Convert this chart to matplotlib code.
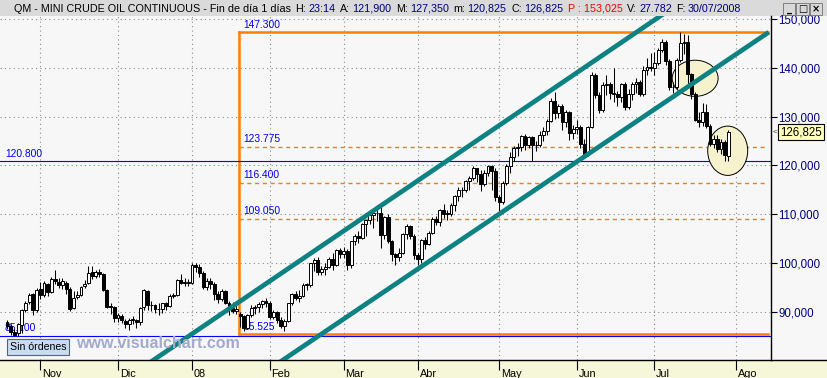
import numpy as np
import pandas as pd
import matplotlib
matplotlib.use("Agg")
import matplotlib.pyplot as plt
from matplotlib.patches import Rectangle, Ellipse
from matplotlib.lines import Line2D
from matplotlib.transforms import blended_transform_factory

plt.rcParams['font.family'] = ['Liberation Sans', 'DejaVu Sans']

# trading days, 19/10/2007 .. 30/07/2008 (axis runs on to Ago)
holidays = ["2007-11-22", "2007-12-25", "2008-01-01", "2008-01-21",
            "2008-02-18", "2008-03-21", "2008-05-26", "2008-07-04"]
dates = pd.bdate_range("2007-10-19", "2008-08-01")
dates = dates[~dates.isin(pd.to_datetime(holidays))]
month_labels = ["Nov", "Dic", "08", "Feb", "Mar", "Abr", "May", "Jun", "Jul", "Ago"]

opens = [87.9, 87.0, 85.9, 85.6, 87.3, 90.3, 92.0, 93.6, 90.4,
         94.6, 93.5, 95.7, 94.0, 96.8, 96.2, 95.5, 95.8, 94.7, 90.8, 93.0, 93.5, 95.2, 95.8, 98.1, 97.3, 98.2, 97.7, 94.4, 91.1, 91.0,
         88.8, 89.2, 88.2, 87.5, 88.3, 88.3, 87.9, 90.9, 94.3, 91.3, 91.3, 90.6, 90.5, 91.7, 91.1, 93.3, 93.5, 96.6, 96.0, 96.0,
         96.0, 99.6, 99.2, 97.9, 95.1, 96.3, 95.7, 93.7, 92.7, 94.2, 91.9, 90.8, 90.1, 89.5, 89.2, 86.6, 89.4, 90.7, 91.0, 91.6, 92.3,
         91.8, 89.0, 90.0, 88.4, 87.1, 88.1, 91.8, 93.6, 92.8, 93.3, 95.5, 95.5, 100.0, 100.7, 98.2, 98.8, 99.2, 100.9, 99.6, 102.6,
         101.8, 102.5, 99.5, 104.5, 105.5, 105.2, 107.9, 108.8, 109.9, 110.3, 110.2, 105.7, 109.4, 104.5, 101.8, 101.2, 102.0, 105.9, 107.6, 105.6,
         101.6, 100.9, 104.8, 103.9, 106.2, 109.1, 108.5, 110.9, 110.1, 110.1, 111.8, 113.8, 114.9, 114.9, 116.7, 117.5, 119.4, 118.3, 116.1, 118.5, 119.8, 118.8,
         113.5, 112.5, 116.3, 119.9, 121.8, 123.5, 123.7, 126.0, 124.2, 125.8, 124.1, 124.1, 126.3, 127.1, 129.1, 133.2, 130.8, 132.2, 128.9, 131.0, 126.6,
         127.4, 127.8, 124.3, 122.3, 127.8, 138.5, 134.4, 131.3, 136.4, 136.7, 134.9, 134.6, 134.0, 136.7, 131.9, 134.6, 136.7, 137.0, 134.6, 139.6, 140.2,
         140.0, 141.0, 143.6, 145.3, 141.4, 136.0, 136.1, 141.7, 145.1, 145.2, 138.7, 134.6, 129.3, 128.9, 131.0, 128.0, 124.4, 125.5, 123.3, 124.7, 121.9]
highs = [88.3, 87.4, 86.4, 87.8, 90.6, 92.2, 93.8, 93.9, 94.8,
         96.2, 96.3, 96.0, 97.1, 98.6, 97.0, 96.9, 96.4, 95.0, 94.2, 94.2, 95.3, 96.6, 99.3, 99.3, 98.6, 98.7, 97.9, 94.6, 91.8, 91.2,
         89.8, 89.5, 88.6, 88.7, 89.1, 88.5, 91.0, 94.7, 94.5, 92.2, 91.6, 91.8, 91.9, 92.0, 93.6, 93.9, 96.8, 97.8, 97.0, 96.8,
         100.0, 100.1, 99.8, 98.3, 97.0, 97.0, 96.1, 94.2, 94.7, 94.5, 92.2, 92.0, 91.8, 90.0, 89.4, 89.6, 91.3, 91.3, 92.0, 92.5, 92.9,
         92.2, 90.4, 90.2, 89.0, 88.5, 91.9, 93.8, 94.2, 94.5, 95.8, 96.0, 100.1, 101.0, 101.3, 99.4, 100.0, 101.2, 102.1, 102.9, 103.1,
         103.2, 102.9, 104.6, 105.9, 106.5, 108.2, 108.9, 110.2, 111.0, 111.8, 111.5, 109.7, 110.0, 104.7, 102.0, 103.1, 106.2, 107.9, 107.8, 106.0,
         102.0, 105.0, 105.3, 106.6, 109.4, 109.7, 111.0, 112.0, 110.8, 112.2, 114.0, 115.5, 115.5, 117.0, 117.8, 119.9, 119.5, 119.0, 119.0, 120.0, 120.0, 119.5,
         113.9, 116.7, 120.2, 122.7, 123.9, 124.6, 126.2, 126.4, 126.0, 126.0, 125.0, 127.0, 127.8, 129.6, 133.8, 135.1, 132.6, 132.6, 131.3, 131.2, 128.3,
         129.3, 128.3, 125.4, 128.0, 139.1, 139.0, 135.0, 137.0, 138.6, 137.0, 139.9, 135.3, 136.9, 137.0, 135.6, 137.0, 138.0, 137.5, 140.4, 142.0, 143.0,
         143.3, 144.0, 145.9, 145.6, 141.8, 137.0, 142.0, 147.3, 147.0, 146.7, 139.0, 135.0, 131.0, 132.7, 132.6, 128.5, 126.2, 126.3, 125.4, 125.2, 127.35]
lows = [86.4, 85.3, 85.1, 85.1, 85.6, 90.0, 91.6, 89.4, 89.9,
        92.6, 93.0, 93.3, 93.8, 95.6, 94.8, 94.7, 93.7, 90.2, 90.6, 92.6, 93.2, 94.9, 95.7, 96.8, 96.9, 97.2, 94.3, 90.7, 89.5, 88.0,
        87.9, 87.6, 86.6, 86.2, 87.4, 86.7, 87.3, 90.3, 90.4, 90.2, 89.8, 89.3, 89.8, 90.3, 90.9, 92.8, 93.3, 95.7, 95.2, 95.3,
        95.7, 98.1, 97.2, 94.6, 94.5, 94.6, 92.5, 91.7, 92.2, 91.5, 89.4, 89.8, 89.6, 86.9, 86.1, 86.4, 89.0, 89.5, 90.0, 90.8, 90.9,
        88.6, 88.5, 87.7, 86.6, 86.1, 87.9, 91.3, 92.4, 92.0, 93.1, 94.5, 95.0, 98.3, 97.6, 97.5, 97.6, 98.9, 98.5, 99.4, 101.0,
        101.0, 98.6, 99.0, 103.6, 104.0, 104.9, 105.6, 108.0, 107.1, 108.6, 103.0, 104.9, 104.0, 100.5, 99.6, 100.4, 101.8, 104.9, 104.9, 100.9,
        99.6, 100.0, 102.9, 103.7, 105.9, 107.7, 107.5, 109.3, 108.9, 109.6, 110.6, 112.7, 113.5, 114.6, 114.9, 117.0, 116.5, 114.8, 115.7, 117.8, 115.0, 112.8,
        110.6, 112.0, 115.9, 118.5, 120.8, 122.0, 123.0, 123.2, 123.5, 120.8, 122.9, 123.8, 125.0, 126.2, 128.9, 129.6, 129.8, 127.3, 127.9, 125.3, 125.4,
        126.4, 123.6, 121.6, 121.9, 127.6, 133.9, 130.7, 130.9, 134.4, 133.6, 133.0, 132.1, 133.0, 131.4, 131.6, 133.4, 134.9, 134.2, 134.3, 138.6, 139.3,
        138.6, 140.6, 143.3, 140.5, 135.4, 134.8, 135.7, 141.1, 142.8, 136.0, 133.7, 129.1, 127.8, 128.0, 127.7, 124.0, 123.6, 122.8, 122.3, 121.0, 120.825]
closes = [87.0, 85.9, 85.3, 87.4, 90.3, 91.8, 93.5, 90.4, 94.5,
          93.5, 95.9, 94.0, 96.7, 96.4, 95.5, 96.3, 94.6, 90.6, 92.9, 93.4, 95.1, 95.7, 98.0, 97.3, 98.2, 97.7, 94.4, 91.0, 91.0, 88.7,
          89.3, 88.3, 87.5, 88.3, 88.3, 87.9, 90.8, 94.4, 91.3, 91.3, 90.6, 90.5, 91.7, 91.1, 93.3, 93.4, 96.6, 96.0, 96.0, 96.0,
          99.6, 99.2, 97.9, 95.1, 96.3, 95.7, 93.7, 92.7, 94.2, 91.9, 90.8, 90.1, 90.6, 89.2, 86.6, 89.4, 90.7, 91.0, 91.6, 92.3, 91.8,
          89.0, 90.0, 88.4, 87.1, 88.1, 91.8, 93.6, 92.8, 93.3, 95.5, 95.5, 100.0, 100.7, 98.2, 98.8, 99.2, 100.9, 99.6, 102.6, 101.8,
          102.5, 99.5, 104.5, 105.5, 105.2, 107.9, 108.8, 109.9, 110.3, 110.2, 105.7, 109.4, 104.5, 101.8, 101.2, 102.0, 105.9, 107.6, 105.6, 101.6,
          100.9, 104.8, 103.9, 106.2, 109.1, 108.5, 110.9, 110.1, 110.1, 111.8, 113.8, 114.9, 114.9, 116.7, 117.5, 119.4, 118.3, 116.1, 118.5, 119.8, 118.8, 113.5,
          112.5, 116.3, 119.9, 121.8, 123.5, 123.7, 126.0, 124.2, 125.8, 124.1, 124.1, 126.3, 127.1, 129.1, 133.2, 130.8, 132.2, 128.9, 131.0, 126.6, 127.4,
          127.8, 124.3, 122.3, 127.8, 138.5, 134.4, 131.3, 136.4, 136.7, 134.9, 134.6, 134.0, 136.7, 131.9, 134.6, 136.7, 137.0, 134.6, 139.6, 140.2, 140.0,
          141.0, 143.6, 145.3, 141.4, 136.0, 136.1, 141.7, 145.1, 145.2, 138.7, 134.6, 129.3, 128.9, 131.0, 128.0, 124.4, 125.5, 123.3, 124.7, 122.2, 126.825]

# drawn studies: channel (bar index, price), fibo, horizontal lines, circles
upper_channel = [(35.5, 78.0), (182.0, 153.4)]
lower_channel = [(72.0, 78.8), (205.9, 147.3)]
fib_top, fib_bottom = 147.3, 85.525
fib_levels = [123.775, 116.4, 109.05]
fib_start, fib_end = 62.7, 205.7
hlines = [120.8, 85.1]
circles = [(186.0, 137.85, 12.4, 7.4), (194.8, 123.0, 10.8, 10.1)]
last_price = 126.825
last_price_label = "126,825"

header_name = "QM - MINI CRUDE OIL CONTINUOUS - Fin de día 1 días"
header_fields = [("H:", "23:14"), ("A:", "121,900"), ("M:", "127,350"), ("m:", "120,825"),
                 ("C:", "126,825"), ("P :", "153,025"), ("V:", "27.782"), ("F:", "30/07/2008")]

W, H = 828, 378
NAVY = "#000080"
fig = plt.figure(figsize=(W / 100, H / 100), dpi=100)
fig.patch.set_facecolor("#F7F7F7")

ax = fig.add_axes([0, 18 / H, 771 / W, 344 / H])
ax.set_facecolor("#F7F7F7")
ax.set_xlim(-1.89, 206.5)
ax.set_ylim(80.12, 150.615)

x = np.arange(len(closes))
o = np.array(opens); h = np.array(highs); l = np.array(lows); c = np.array(closes)
up = c >= o

# grid
period = dates.to_period("M")
month_pos = [i for i in range(1, len(dates)) if period[i] != period[i - 1]]
ax.set_xticks(month_pos)
ax.set_xticklabels([])
ax.set_yticks(range(90, 151, 10))
ax.set_yticklabels(["%d,000" % v for v in range(90, 151, 10)])
ax.set_axisbelow(True)
ax.grid(True, color="#8C8C8C", linestyle=(0, (1, 3)), linewidth=0.8)

# levels
ax.plot([fib_start, fib_start], [fib_bottom, fib_top], color="#FF8000", lw=1.8, zorder=1)
for lv in [fib_top, fib_bottom]:
    ax.plot([fib_start, fib_end], [lv, lv], color="#FF8000", lw=1.8, zorder=1)
for lv in fib_levels:
    ax.plot([fib_start, fib_end], [lv, lv], color="#FF7A00", lw=1.0, dashes=(3, 2.6), zorder=1)
for lv in hlines:
    ax.plot([-1.89, 206.3], [lv, lv], color="#0000FF", lw=0.8, zorder=1.2)

for lv in [fib_top] + fib_levels:
    ax.annotate("%.3f" % lv, (fib_start + 1.1, lv), xytext=(0, 3.3), textcoords="offset points",
                color="#0000FF", fontsize=7.4, va="baseline", zorder=1.8)
ax.annotate("%.3f" % fib_bottom, (fib_start + 1.1, fib_bottom), xytext=(0, 2.8), textcoords="offset points",
            color="#0000FF", fontsize=7.4, va="baseline", zorder=1.8)
for lv in hlines:
    ax.annotate("%.3f" % lv, (-0.6, lv), xytext=(0, 3.4), textcoords="offset points",
                color="#0000FF", fontsize=7.4, va="baseline", zorder=1.8)

for cx, cy, cw, ch in circles:
    ax.add_patch(Ellipse((cx, cy), cw, ch, facecolor="#F6F2CE", edgecolor="black", lw=0.7, zorder=1.5))

# candles
ax.vlines(x, np.minimum(l, np.minimum(o, c)), np.maximum(h, np.maximum(o, c)), color="black", lw=0.75, zorder=3)
body = np.maximum(np.abs(c - o), 0.12)
ax.bar(x[up], body[up], bottom=np.minimum(o, c)[up], width=0.78, facecolor="white",
       edgecolor="black", linewidth=0.7, zorder=3.2)
ax.bar(x[~up], body[~up], bottom=np.minimum(o, c)[~up], width=0.78, facecolor="black",
       edgecolor="black", linewidth=0.7, zorder=3.2)

# channel
for line in [upper_channel, lower_channel]:
    ax.plot([line[0][0], line[1][0]], [line[0][1], line[1][1]], color="#0E8282",
            lw=3.4, solid_capstyle="butt", zorder=4)

# axes look
for s in ["left", "top"]:
    ax.spines[s].set_visible(False)
ax.spines["right"].set_linewidth(1.0)
ax.spines["bottom"].set_linewidth(1.0)
ax.yaxis.tick_right()
ax.tick_params(axis="y", direction="out", length=4, width=0.8, colors="black",
               labelcolor=NAVY, labelsize=8.3, pad=1.2)
ax.tick_params(axis="x", direction="out", length=7, width=0.8, colors="black")

tb = blended_transform_factory(ax.transData, ax.transAxes)
for pos, lab in zip(month_pos, month_labels):
    ax.text(pos + 0.5, -0.049, lab, transform=tb, fontsize=7.8, va="baseline", ha="left", clip_on=False)

tr = blended_transform_factory(ax.transAxes, ax.transData)
ax.text(1 + 9 / 771, last_price, last_price_label,
        transform=tr, fontsize=8.3, va="center", ha="left", clip_on=False,
        bbox=dict(boxstyle="square,pad=0.18", facecolor="#FFFFC0", edgecolor="black", lw=0.8))
ax.text(1 + 2 / 771, last_price, "<", transform=tr, fontsize=6, va="center", ha="left",
        color="#404040", clip_on=False)

# bottom band and title bar
fig.add_artist(Rectangle((0, 0), 1, 18 / H, transform=fig.transFigure, facecolor="#F6F6D8",
                         edgecolor="none", zorder=-1))
fig.add_artist(Line2D([771 / W, 1], [18 / H, 18 / H], transform=fig.transFigure, color="black", lw=1.0))
fig.add_artist(Rectangle((0, 1 - 16 / H), 1, 16 / H, transform=fig.transFigure, facecolor="#DADADA",
                         edgecolor="none", zorder=-1))

renderer = fig.canvas.get_renderer()
xpos = 14
parts = [(header_name, "black")]
for lab, val in header_fields:
    if lab.startswith("P"):
        parts.append((lab + " " + val, "#FF0000"))
    else:
        parts.append((lab, "black"))
        parts.append((val, NAVY))
for i, (s, col) in enumerate(parts):
    t = fig.text(xpos / W, 1 - 8.5 / H, s, color=col, fontsize=7.75, va="center", ha="left")
    bb = t.get_window_extent(renderer)
    xpos = bb.x1 + (2.2 if col == "black" and i > 0 else 4.5)

for i, g in enumerate(["_", "□", "×"]):
    bx = 783 + i * 13.5
    fig.add_artist(Rectangle((bx / W, 1 - 15 / H), 12.5 / W, 12 / H, transform=fig.transFigure,
                             facecolor="#D8D8D8", edgecolor="#707070", lw=0.6))
    fig.text((bx + 6.2) / W, 1 - 9 / H, g, fontsize=7, ha="center", va="center", color="black",
             family=["DejaVu Sans"], fontweight="bold")

fig.text(10 / W, 1 - 347 / H, "Sin órdenes", fontsize=7.6, va="center", ha="left",
         bbox=dict(boxstyle="square,pad=0.25", facecolor="#C8DCF2", edgecolor="#566478", lw=0.8))
fig.text(76 / W, 1 - 344 / H, "www.visualchart.com", fontsize=11.5, fontweight="bold",
         color="#A3AACA", va="center", ha="left")

fig.savefig("out.png", dpi=100, facecolor=fig.get_facecolor())
